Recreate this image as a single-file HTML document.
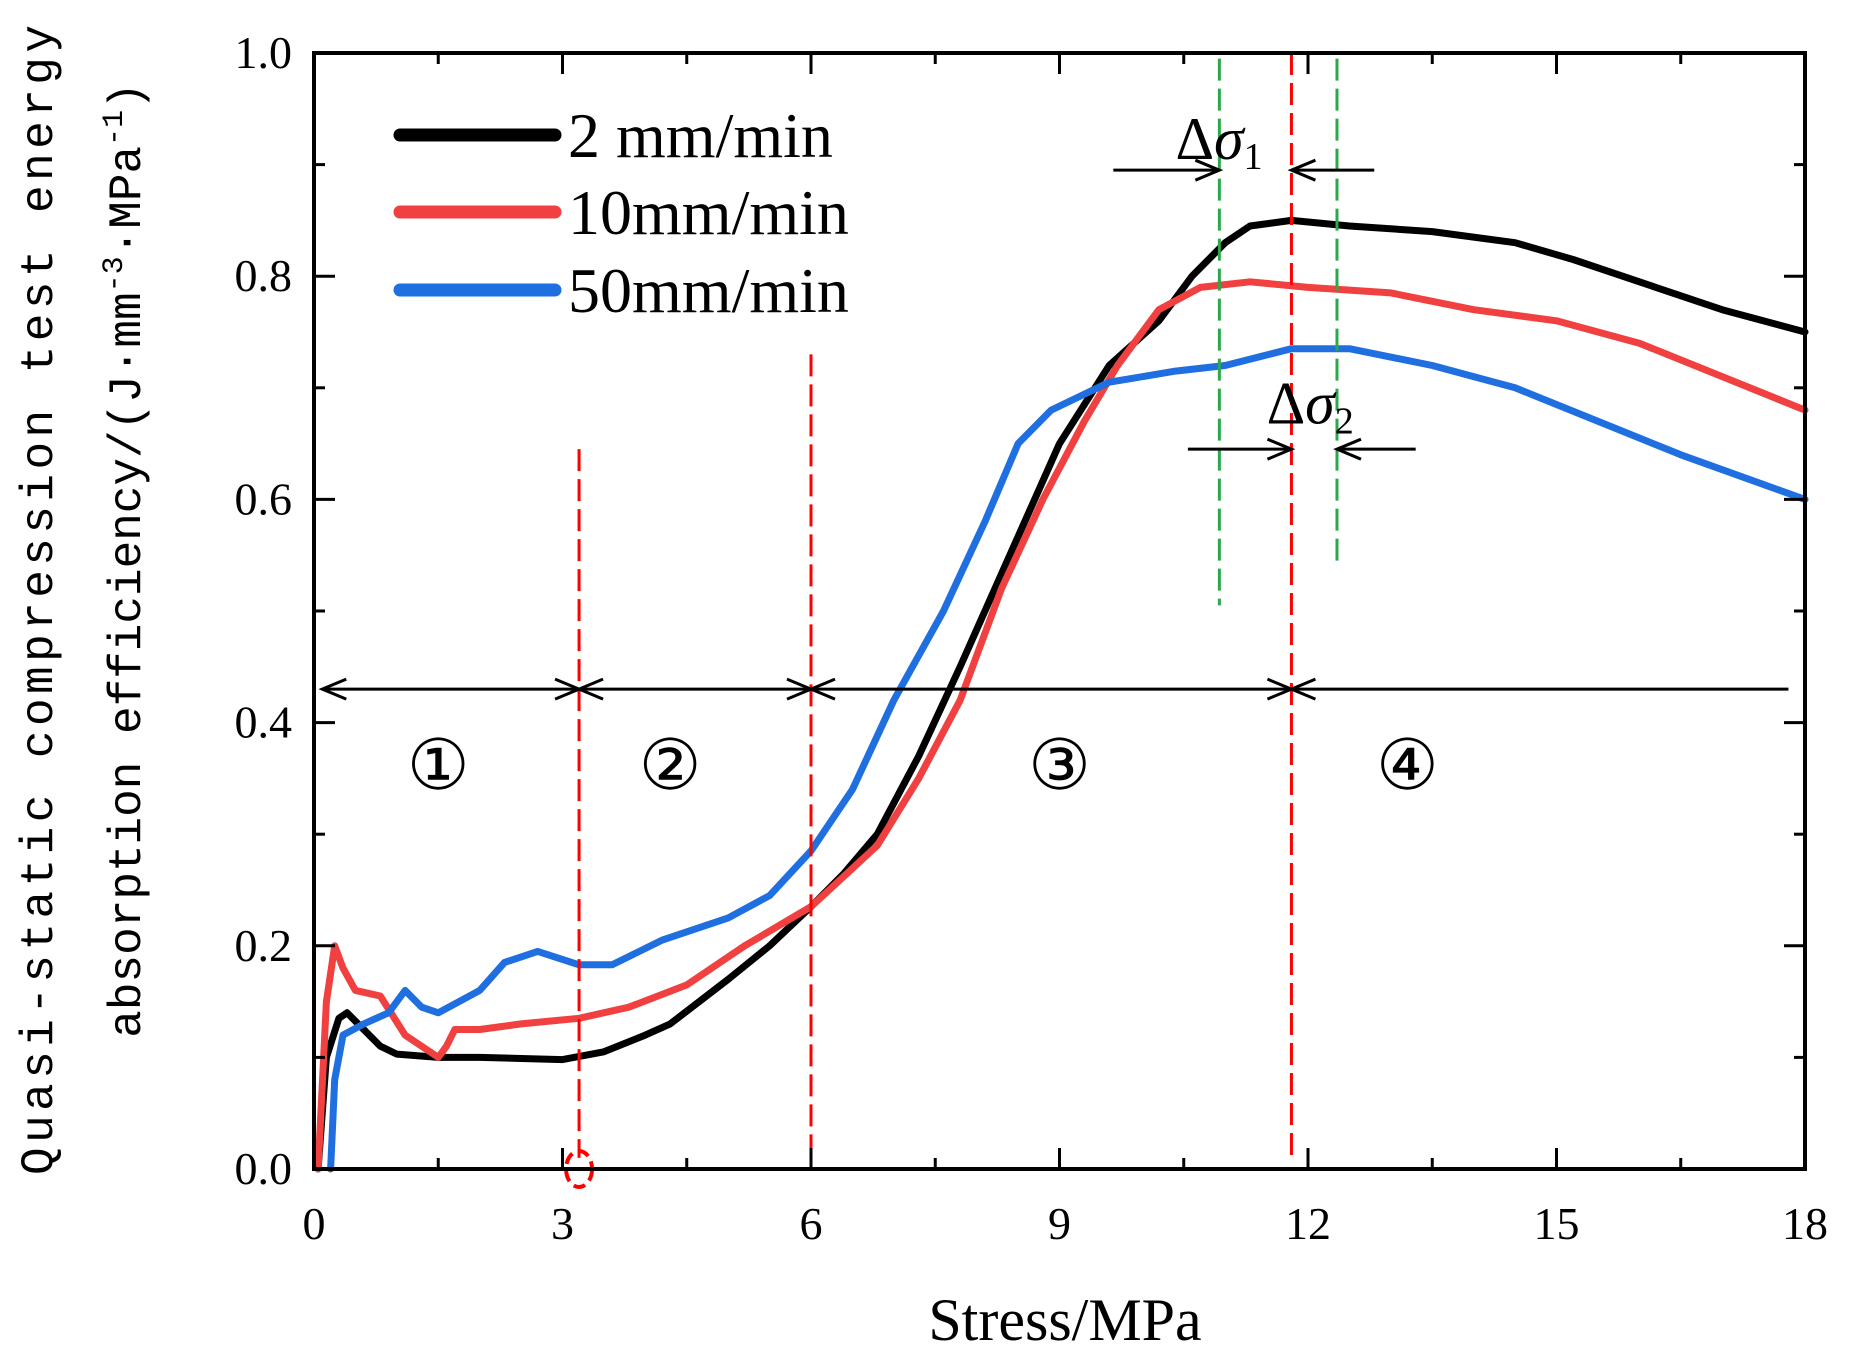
<!DOCTYPE html>
<html><head><meta charset="utf-8"><style>
html,body{margin:0;padding:0;background:#fff;}
svg{display:block;}
text{font-family:"Liberation Serif",serif;fill:#000;}
</style></head><body>
<svg id="chart" width="1852" height="1364" viewBox="0 0 1852 1364" xmlns="http://www.w3.org/2000/svg">
<g id="marks"></g>
</svg>
<script>
const xTicks=[0,3,6,9,12,15,18];
const yTicks=[0.0,0.2,0.4,0.6,0.8,1.0];
const yTickLabels=["0.0","0.2","0.4","0.6","0.8","1.0"];
const seriesNames=["2 mm/min","10mm/min","50mm/min"];
const seriesColors=["#000000","#f04040","#1f6fe0"];
const blackX=[0.05,0.15,0.3,0.4,0.6,0.8,1.0,1.5,2,2.5,3,3.5,4,4.3,5,5.5,6,6.4,6.8,7.3,7.8,8.4,9,9.6,10.2,10.6,11,11.3,11.8,12.5,13.5,14.5,15.2,16.2,17,18];
const blackY=[0,0.1,0.135,0.14,0.125,0.11,0.103,0.1,0.1,0.099,0.098,0.105,0.12,0.13,0.17,0.2,0.235,0.265,0.3,0.37,0.45,0.55,0.65,0.72,0.76,0.8,0.83,0.845,0.85,0.845,0.84,0.83,0.815,0.79,0.77,0.75];
const redX=[0.05,0.15,0.25,0.35,0.5,0.8,1.1,1.5,1.6,1.7,2,2.5,3.2,3.8,4.5,5.2,6,6.8,7.3,7.8,8.3,8.8,9.3,9.7,10.2,10.7,11.3,12,13,14,15,16,17,18];
const redY=[0,0.15,0.2,0.18,0.16,0.155,0.12,0.1,0.11,0.125,0.125,0.13,0.135,0.145,0.165,0.2,0.235,0.29,0.35,0.42,0.52,0.6,0.67,0.72,0.77,0.79,0.795,0.79,0.785,0.77,0.76,0.74,0.71,0.68];
const blueX=[0.2,0.25,0.35,0.6,0.9,1.1,1.3,1.5,2,2.3,2.7,3.2,3.6,4.2,5,5.5,6,6.5,7,7.6,8.1,8.5,8.9,9.6,10.4,11,11.8,12.5,13.5,14.5,15.5,16.5,18];
const blueY=[0,0.08,0.12,0.13,0.14,0.16,0.145,0.14,0.16,0.185,0.195,0.183,0.183,0.205,0.225,0.245,0.285,0.34,0.42,0.5,0.58,0.65,0.68,0.705,0.715,0.72,0.735,0.735,0.72,0.7,0.67,0.64,0.6];
const redDashX=[3.2,6,11.8];
const redDashTop=[0.645,0.73,1.0];
const greenDashX=[10.93,12.35];
const greenDashTop=[0.995,0.995];
const greenDashBottom=[0.505,0.54];
const regionBounds=[0.1,3.2,6,11.8,17.8];
const regionLabels=["①","②","③","④"];
const regionLabelX=[1.5,4.3,9.0,13.2];

const X0=314,X1=1805,Y0=1169,Y1=53;
const sx=v=>X0+(v-0)/18*(X1-X0);
const sy=v=>Y0-(v-0)/1.0*(Y0-Y1);
const NS="http://www.w3.org/2000/svg";
const g=document.getElementById('marks');
function mk(tag,attrs,parent){const e=document.createElementNS(NS,tag);for(const k in attrs)e.setAttribute(k,attrs[k]);(parent||g).appendChild(e);return e;}

const sx_=[blackX,redX,blueX], sy_=[blackY,redY,blueY];
for(let s=0;s<3;s++){
  const d=sx_[s].map((x,i)=>(i?'L':'M')+sx(x).toFixed(1)+','+sy(sy_[s][i]).toFixed(1)).join(' ');
  const p=mk('path',{d:d,fill:'none',stroke:seriesColors[s],'stroke-width':7,'stroke-linejoin':'round','stroke-linecap':'round'});
  
  
}
for(let i=0;i<redDashX.length;i++){
  const l=mk('line',{x1:sx(redDashX[i]),x2:sx(redDashX[i]),y1:sy(redDashTop[i]),y2:sy(0.01),stroke:'#f00','stroke-width':3,'stroke-dasharray':'22,8'});
  
  
}
for(let i=0;i<greenDashX.length;i++){
  const l=mk('line',{x1:sx(greenDashX[i]),x2:sx(greenDashX[i]),y1:sy(greenDashTop[i]),y2:sy(greenDashBottom[i]),stroke:'#2aa84a','stroke-width':3,'stroke-dasharray':'22,8'});
  
  
}
const c=mk('ellipse',{cx:sx(3.2),cy:sy(0),rx:13,ry:18,fill:'none',stroke:'#f00','stroke-width':4,'stroke-dasharray':'12,6'});



function arrowHead(x,y,dir){
  const L=24,W=10;
  mk('path',{d:`M${x-dir*L},${y-W} L${x},${y} L${x-dir*L},${y+W}`,fill:'none',stroke:'#000','stroke-width':3});
}
const ay=sy(0.43);
for(let i=0;i<4;i++){
  const a=sx(regionBounds[i]), b=sx(regionBounds[i+1]);
  const l=mk('line',{x1:a,x2:b,y1:ay,y2:ay,stroke:'#000','stroke-width':3});
  
  
  arrowHead(a,ay,-1);
  if(i<3) arrowHead(b,ay,1);
  const t=mk('text',{x:sx(regionLabelX[i]),y:sy(0.36)+22,'font-size':70,'text-anchor':'middle'});
  t.textContent=regionLabels[i];
  
  
}
function dArrow(y,xl,xa,xr,xb){
  mk('line',{x1:sx(xl),x2:sx(xa),y1:sy(y),y2:sy(y),stroke:'#000','stroke-width':3});
  arrowHead(sx(xa),sy(y),1);
  mk('line',{x1:sx(xr),x2:sx(xb),y1:sy(y),y2:sy(y),stroke:'#000','stroke-width':3});
  arrowHead(sx(xb),sy(y),-1);
}
dArrow(0.895,9.65,10.93,12.8,11.8);
dArrow(0.645,10.55,11.8,13.3,12.35);
const t1=mk('text',{x:sx(10.4),y:sy(0.905),'font-size':60});
t1.innerHTML='Δ<tspan font-style="italic">σ</tspan><tspan font-size="38" dy="10">1</tspan>';


const t2=mk('text',{x:sx(11.5),y:sy(0.668),'font-size':60});
t2.innerHTML='Δ<tspan font-style="italic">σ</tspan><tspan font-size="38" dy="10">2</tspan>';



const fr=mk('rect',{x:X0,y:Y1,width:X1-X0,height:Y0-Y1,fill:'none',stroke:'#000','stroke-width':4});


for(let i=0;i<xTicks.length;i++){
  const x=sx(xTicks[i]);
  mk('line',{x1:x,x2:x,y1:Y0,y2:Y0-21,stroke:'#000','stroke-width':3});
  mk('line',{x1:x,x2:x,y1:Y1,y2:Y1+21,stroke:'#000','stroke-width':3});
  if(i<xTicks.length-1){const m=sx((xTicks[i]+xTicks[i+1])/2);
    mk('line',{x1:m,x2:m,y1:Y0,y2:Y0-11,stroke:'#000','stroke-width':3});
    mk('line',{x1:m,x2:m,y1:Y1,y2:Y1+11,stroke:'#000','stroke-width':3});}
  const t=mk('text',{x:x,y:Y0+70,'font-size':46,'text-anchor':'middle'});
  t.textContent=xTicks[i];
  
  
}
for(let i=0;i<yTicks.length;i++){
  const y=sy(yTicks[i]);
  mk('line',{x1:X0,x2:X0+21,y1:y,y2:y,stroke:'#000','stroke-width':3});
  mk('line',{x1:X1,x2:X1-21,y1:y,y2:y,stroke:'#000','stroke-width':3});
  if(i<yTicks.length-1){const m=sy((yTicks[i]+yTicks[i+1])/2);
    mk('line',{x1:X0,x2:X0+11,y1:m,y2:m,stroke:'#000','stroke-width':3});
    mk('line',{x1:X1,x2:X1-11,y1:m,y2:m,stroke:'#000','stroke-width':3});}
  const t=mk('text',{x:292,y:y+15,'font-size':46,'text-anchor':'end'});
  t.textContent=yTickLabels[i];
  
  
}
const legY=[135,212,290];
for(let s=0;s<3;s++){
  const l=mk('line',{x1:400,x2:555,y1:legY[s],y2:legY[s],stroke:seriesColors[s],'stroke-width':13,'stroke-linecap':'round'});
  
  
  const t=mk('text',{x:568,y:legY[s]+22,'font-size':64});
  t.textContent=seriesNames[s];
  
  
}
const xt=mk('text',{x:1065,y:1340,'font-size':60,'text-anchor':'middle'});
xt.textContent='Stress/MPa';


const yt=mk('text',{x:0,y:0,'font-size':46,'text-anchor':'middle',transform:'translate(52,600) rotate(-90)','style':'font-family:"Liberation Mono",monospace'});
yt.textContent='Quasi-static compression test energy';
yt.setAttribute('textLength','1150');


const yt2=mk('text',{x:0,y:0,'font-size':46,'text-anchor':'middle',transform:'translate(140,560) rotate(-90)','style':'font-family:"Liberation Mono",monospace'});
yt2.innerHTML='absorption efficiency/(J·mm<tspan font-size="30" dy="-18">-3</tspan><tspan dy="18">·MPa</tspan><tspan font-size="30" dy="-18">-1</tspan><tspan dy="18">)</tspan>';


</script>
</body></html>
